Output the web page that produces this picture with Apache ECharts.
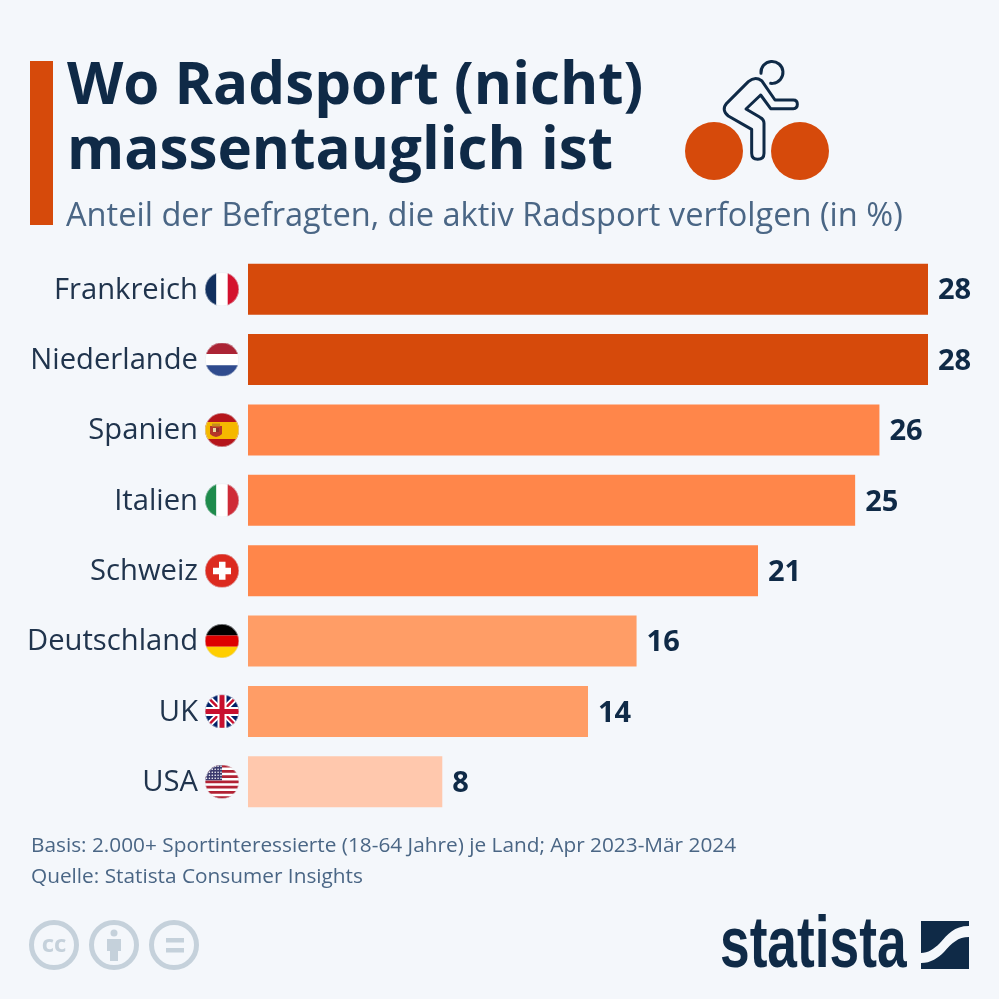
<!DOCTYPE html>
<html>
<head>
<meta charset="utf-8">
<style>
html, body { margin: 0; padding: 0; background: #f4f7fb; }
#chart { width: 999px; height: 999px; }
</style>
<script src="https://cdn.jsdelivr.net/npm/echarts@6/dist/echarts.min.js"></script>
</head>
<body>
<div id="chart"></div>
<script>
const categories = ['Frankreich', 'Niederlande', 'Spanien', 'Italien', 'Schweiz', 'Deutschland', 'UK', 'USA'];
const shares = [28, 28, 26, 25, 21, 16, 14, 8];
const barColors = ['#d64a0b', '#d64a0b', '#ff864a', '#ff864a', '#ff864a', '#ff9d66', '#ff9d66', '#ffc8ad'];

const titleText = 'Wo Radsport (nicht)\nmassentauglich ist';
const subtitleText = 'Anteil der Befragten, die aktiv Radsport verfolgen (in %)';
const footerLines = [
    'Basis: 2.000+ Sportinteressierte (18-64 Jahre) je Land; Apr 2023-Mär 2024',
    'Quelle: Statista Consumer Insights'
];

const NAVY = '#0f2a47';
const SLATE = '#4a6685';
const FONT = '"Open Sans", sans-serif';
const ICON_GREY = '#c5d1db';

// flags are little svgs, used as rich text backgrounds in the axis labels
const hStripes = (a, b, c) => `<rect width="34" height="11.4" fill="${a}"/><rect y="11.4" width="34" height="11.3" fill="${b}"/><rect y="22.7" width="34" height="11.3" fill="${c}"/>`;
const vStripes = (a, b, c) => `<rect width="11.4" height="34" fill="${a}"/><rect x="11.4" width="11.3" height="34" fill="${b}"/><rect x="22.7" width="11.3" height="34" fill="${c}"/>`;

let usStripes = '';
for (let i = 0; i < 7; i++) {
    usStripes += `<rect y="${i * 5.24}" width="34" height="2.62" fill="#b22234"/>`;
}
let usStars = '';
for (let r = 0; r < 5; r++) {
    for (let c = 0; c < 6; c++) {
        usStars += `<circle cx="${1.5 + c * 2.9}" cy="${1.5 + r * 3}" r="0.8" fill="#fff"/>`;
    }
}

const flagShapes = [
    vStripes('#12305f', '#ffffff', '#d4122e'),
    hStripes('#ab2435', '#ffffff', '#2f4b8e'),
    `<rect width="34" height="34" fill="#b5151b"/><rect y="9" width="34" height="17" fill="#f5b800"/>
     <path d="M5 13h12v8q-6 6-12 0z" fill="#b5352a"/><rect x="7" y="10.5" width="8" height="3" fill="#c98a1e"/>
     <rect x="8" y="15" width="3" height="4" fill="#e8d9a0"/><rect x="11" y="15" width="3" height="4" fill="#8c2f2a"/>`,
    vStripes('#1f8b4c', '#ffffff', '#cf2b37'),
    `<rect width="34" height="34" fill="#dc2a1f"/><rect x="14" y="8" width="6.5" height="18" fill="#fff"/><rect x="8" y="14" width="18" height="6.5" fill="#fff"/>`,
    hStripes('#000000', '#dd0000', '#ffce00'),
    `<rect width="34" height="34" fill="#012169"/>
     <path d="M0 0L34 34M34 0L0 34" stroke="#fff" stroke-width="6"/>
     <path d="M0 0L34 34M34 0L0 34" stroke="#c8102e" stroke-width="2.4"/>
     <rect x="12.5" width="9" height="34" fill="#fff"/><rect y="12.5" width="34" height="9" fill="#fff"/>
     <rect x="14.5" width="5" height="34" fill="#c8102e"/><rect y="14.5" width="34" height="5" fill="#c8102e"/>`,
    `<rect width="34" height="34" fill="#fff"/>${usStripes}<rect width="17" height="15.5" fill="#3c3b6e"/>${usStars}`
];

const flagImage = (shape) => 'data:image/svg+xml;charset=utf-8,' + encodeURIComponent(
    `<svg xmlns="http://www.w3.org/2000/svg" width="102" height="102" viewBox="0 0 34 34">
     <clipPath id="c"><circle cx="17" cy="17" r="17"/></clipPath>
     <g clip-path="url(#c)">${shape}</g>
     <circle cx="17" cy="17" r="16.7" fill="none" stroke="#dfe4ea" stroke-width="0.5"/></svg>`
);

let labelRich = {
    name: { fontFamily: FONT, fontSize: 29.2, color: '#20344d', padding: [2, 7, 0, 0] }
};
flagShapes.forEach((shape, i) => {
    labelRich['flag' + i] = {
        width: 34,
        height: 34,
        backgroundColor: { image: flagImage(shape) }
    };
});

// svg paths have to be registered before the graphic component can use them
echarts.graphic.registerShape('riderBody', echarts.graphic.extendPath('M345 180L400 180Q412 180 412 193Q412 206 400 206L332 206L302 165L258 207L300 232Q312 238 312 250L312 340Q312 358 293 358Q275 358 275 340L275 268L205 228Q183 210 200 190L265 125Q285 108 305 122Z'));
echarts.graphic.registerShape('riderHead', echarts.graphic.extendPath('M303 100A33 33 0 1 1 332 130'));
echarts.graphic.registerShape('byPerson', echarts.graphic.extendPath('M107 939L121 939L121 951L118 951L118 961L110 961L110 951L107 951Z'));
echarts.graphic.registerShape('logoSwoosh', echarts.graphic.extendPath('M969 926C954 926 948 934 940 943C934 949 928 953 921 953L921 963C931 963 938 958 944 952C952 943 958 937 969 937Z'));

const ccRing = (x) => ({
    type: 'circle',
    shape: { cx: x, cy: 945, r: 22.5 },
    style: { fill: 'none', stroke: ICON_GREY, lineWidth: 5 }
});

const graphics = [
    { type: 'rect', shape: { x: 30, y: 61, width: 23, height: 164 }, style: { fill: '#d64a0b' } },

    // cyclist
    { type: 'circle', shape: { cx: 714, cy: 151, r: 29 }, style: { fill: '#d64a0b' } },
    { type: 'circle', shape: { cx: 800, cy: 151, r: 29 }, style: { fill: '#d64a0b' } },
    {
        type: 'group', x: 660, y: 40, scaleX: 1 / 3, scaleY: 1 / 3,
        children: [
            { type: 'riderBody', style: { fill: 'none', stroke: NAVY, lineWidth: 9, lineJoin: 'round' } },
            { type: 'riderHead', style: { fill: 'none', stroke: NAVY, lineWidth: 9, lineCap: 'round' } }
        ]
    },

    // footer
    { type: 'text', style: { x: 31, y: 846, text: footerLines[0], font: '20.8px ' + FONT, fill: SLATE, textVerticalAlign: 'middle' } },
    { type: 'text', style: { x: 31, y: 877, text: footerLines[1], font: '20.8px ' + FONT, fill: SLATE, textVerticalAlign: 'middle' } },

    // licence icons
    ccRing(54), ccRing(114), ccRing(174),
    { type: 'text', style: { x: 54, y: 945, text: 'cc', font: 'bold 24px ' + FONT, fill: ICON_GREY, textAlign: 'center', textVerticalAlign: 'middle' } },
    { type: 'circle', shape: { cx: 114, cy: 933, r: 3.5 }, style: { fill: ICON_GREY } },
    { type: 'byPerson', style: { fill: ICON_GREY } },
    { type: 'rect', shape: { x: 166, y: 938, width: 18, height: 4.5 }, style: { fill: ICON_GREY } },
    { type: 'rect', shape: { x: 166, y: 948, width: 18, height: 4.5 }, style: { fill: ICON_GREY } },

    // statista logo, squeezed since the real wordmark is condensed
    {
        type: 'text', x: 720, y: 947, scaleX: 0.74,
        style: { x: 0, y: 0, text: 'statista', font: 'bold 72px "Liberation Sans", sans-serif', fill: NAVY, textVerticalAlign: 'middle' }
    },
    { type: 'rect', shape: { x: 921, y: 921, width: 48, height: 48 }, style: { fill: NAVY } },
    { type: 'logoSwoosh', style: { fill: '#f4f7fb' } }
];

let myChart = echarts.init(document.getElementById('chart'));
let option = {
    backgroundColor: '#f4f7fb',
    animation: false,
    title: [
        {
            text: titleText,
            left: 62,
            top: 50,
            textStyle: { fontFamily: FONT, fontWeight: 'bold', fontSize: 58.3, lineHeight: 65, color: NAVY }
        },
        {
            text: subtitleText,
            left: 61,
            top: 195,
            textStyle: { fontFamily: FONT, fontWeight: 'normal', fontSize: 32.6, color: SLATE }
        }
    ],
    grid: { left: 248, top: 254, width: 680, height: 563 },
    xAxis: { type: 'value', min: 0, max: 28, show: false },
    yAxis: {
        type: 'category',
        inverse: true,
        data: categories,
        axisLine: { show: false },
        axisTick: { show: false },
        axisLabel: {
            margin: 9,
            formatter: (value, i) => `{name|${value}}{flag${i}|}`,
            rich: labelRich
        }
    },
    series: [{
        type: 'bar',
        data: shares.map((v, i) => ({ value: v, itemStyle: { color: barColors[i] } })),
        barWidth: 51,
        silent: true,
        label: {
            show: true,
            position: 'right',
            distance: 10,
            offset: [0, 2],
            fontFamily: FONT,
            fontWeight: 'bold',
            fontSize: 29,
            color: NAVY
        }
    }],
    graphic: graphics
};
myChart.setOption(option);
</script>
</body>
</html>
